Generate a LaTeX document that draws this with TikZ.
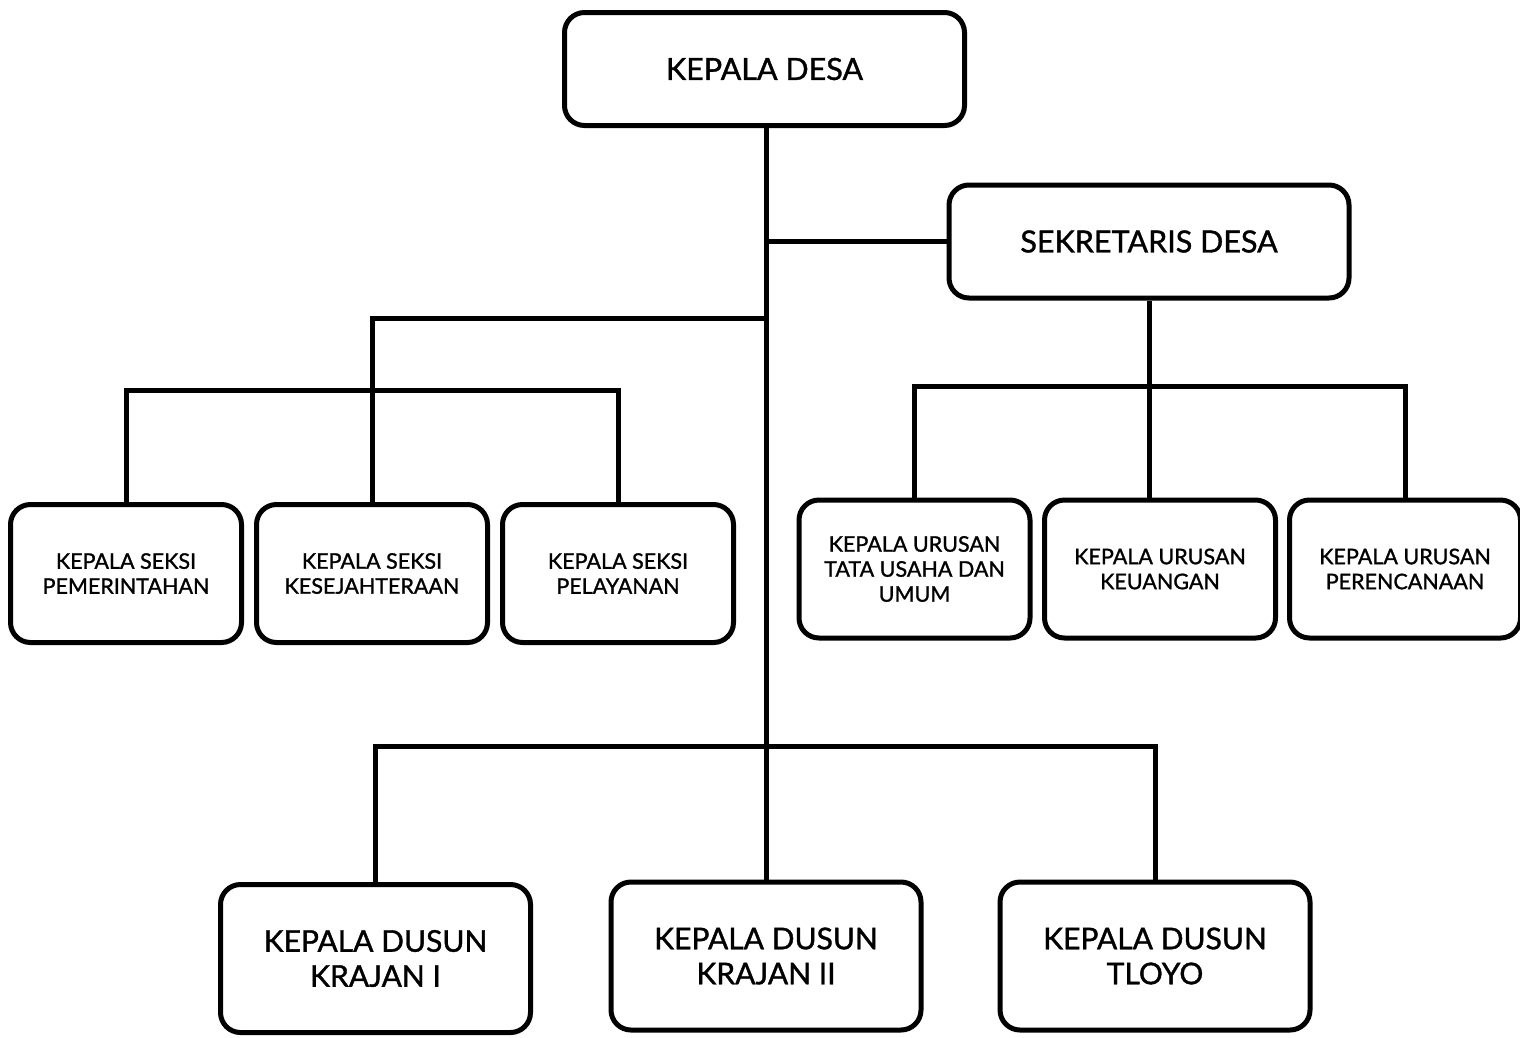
\documentclass[tikz,border=0pt]{standalone}
\usepackage{fontspec}
\setmainfont{Lato}[FakeBold=1.2]
\begin{document}
\begin{tikzpicture}[x=1pt,y=1pt,
  box/.style={draw=black,line width=5pt,rounded corners=20pt,fill=white,align=center,inner sep=0pt},
  small/.style={box,minimum width=231pt,minimum height=138pt,font=\fontsize{21.5}{25}\selectfont},
  big/.style={box,minimum width=310pt,minimum height=148pt,font=\fontsize{30}{35}\selectfont},
  head/.style={box,minimum width=400pt,minimum height=113pt,font=\fontsize{30.5}{36}\selectfont},
  conn/.style={line width=5pt}]
\useasboundingbox (0,0) rectangle (1520,-1037);
\node[head] (top) at (764.5,-69) {KEPALA DESA};
\node[head] (sek) at (1149,-241.5) {SEKRETARIS DESA};
\node[small] (k1) at (126,-573.5) {KEPALA SEKSI\\PEMERINTAHAN};
\node[small] (k2) at (372,-573.5) {KEPALA SEKSI\\KESEJAHTERAAN};
\node[small] (k3) at (618,-573.5) {KEPALA SEKSI\\PELAYANAN};
\node[small] (k4) at (914.5,-569) {KEPALA URUSAN\\TATA USAHA DAN\\UMUM};
\node[small] (k5) at (1160,-569) {KEPALA URUSAN\\KEUANGAN};
\node[small] (k6) at (1405,-569) {KEPALA URUSAN\\PERENCANAAN};
\node[big] (k7) at (375.5,-958.5) {KEPALA DUSUN\\KRAJAN I};
\node[big] (k8) at (766,-956) {KEPALA DUSUN\\KRAJAN II};
\node[big] (k9) at (1155,-956) {KEPALA DUSUN\\TLOYO};
\draw[conn] (top.south -| k8.north) -- (k8.north);
\draw[conn] (sek.west) -- (sek.west -| k8.north);
\draw[conn] (k8.north |- 0,-318) -| (k2.north);
\draw[conn] (k1.north) -- ++(0,112) -| (k3.north);
\draw[conn] (sek.south) -- (sek.south |- k5.north);
\draw[conn] (k4.north) -- ++(0,111) -| (k6.north);
\draw[conn] (k7.north) -- ++(0,136) -| (k9.north);
\end{tikzpicture}
\end{document}
